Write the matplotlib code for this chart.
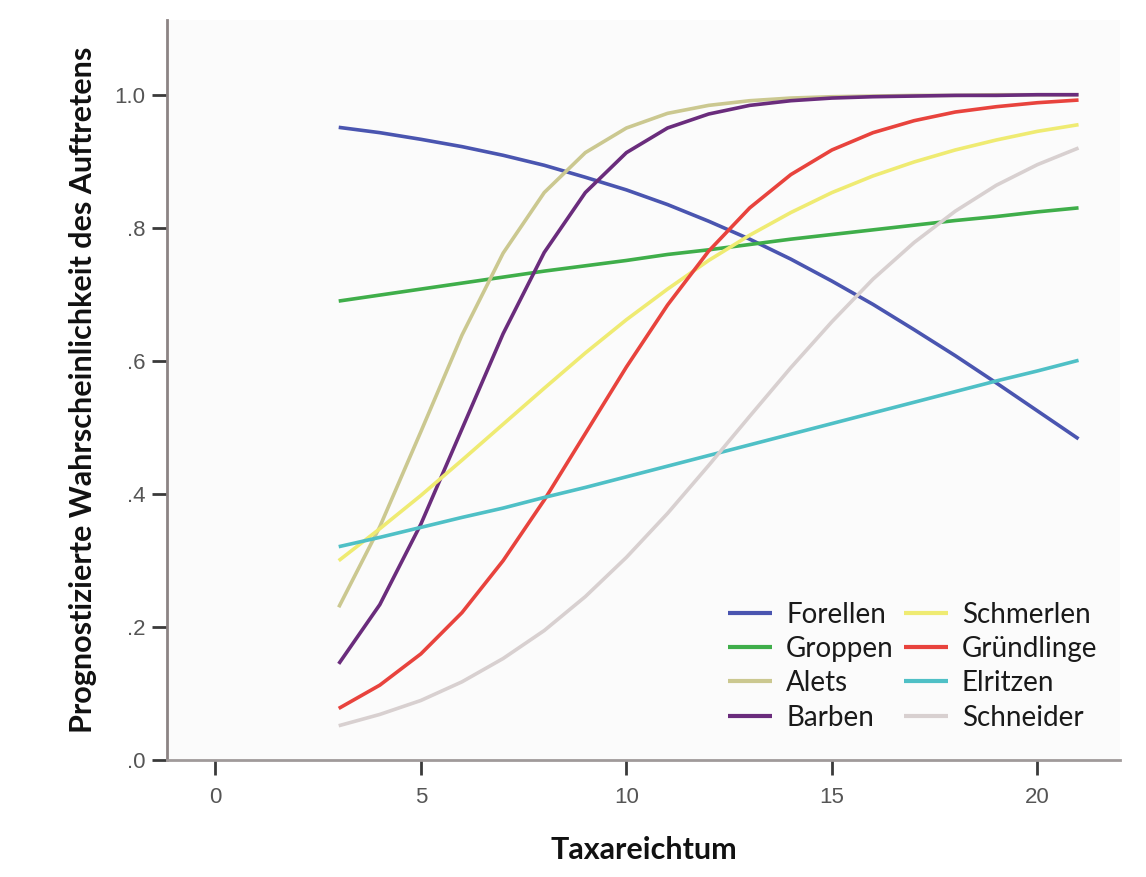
import matplotlib
matplotlib.use("Agg")
import matplotlib.pyplot as plt

# Taxareichtum (x) und prognostizierte Wahrscheinlichkeiten je Fischart
taxa = [3, 4, 5, 6, 7, 8, 9, 10, 11, 12, 13, 14, 15, 16, 17, 18, 19, 20, 21]

forellen = [0.951, 0.943, 0.933, 0.922, 0.909, 0.894, 0.876, 0.857, 0.835, 0.810,
            0.783, 0.753, 0.720, 0.685, 0.647, 0.608, 0.567, 0.525, 0.483]
groppen = [0.690, 0.699, 0.708, 0.717, 0.726, 0.735, 0.743, 0.751, 0.760, 0.767,
           0.775, 0.783, 0.790, 0.797, 0.804, 0.811, 0.817, 0.824, 0.830]
alets = [0.230, 0.351, 0.494, 0.639, 0.762, 0.853, 0.913, 0.950, 0.972, 0.984,
         0.991, 0.995, 0.997, 0.998, 0.999, 0.999, 1.000, 1.000, 1.000]
barben = [0.145, 0.234, 0.355, 0.498, 0.641, 0.763, 0.853, 0.913, 0.950, 0.971,
          0.984, 0.991, 0.995, 0.997, 0.998, 0.999, 0.999, 1.000, 1.000]
schmerlen = [0.300, 0.348, 0.398, 0.451, 0.505, 0.559, 0.612, 0.662, 0.708, 0.751,
             0.789, 0.823, 0.853, 0.878, 0.899, 0.917, 0.932, 0.945, 0.955]
gruendlinge = [0.078, 0.113, 0.160, 0.222, 0.300, 0.391, 0.491, 0.591, 0.684, 0.765,
               0.830, 0.880, 0.917, 0.943, 0.961, 0.974, 0.982, 0.988, 0.992]
elritzen = [0.321, 0.335, 0.350, 0.365, 0.379, 0.395, 0.410, 0.426, 0.442, 0.458,
            0.474, 0.490, 0.506, 0.522, 0.538, 0.554, 0.570, 0.585, 0.601]
schneider = [0.052, 0.069, 0.090, 0.118, 0.153, 0.195, 0.246, 0.305, 0.371, 0.443,
             0.517, 0.590, 0.659, 0.723, 0.778, 0.825, 0.864, 0.895, 0.920]

names = ["Forellen", "Groppen", "Alets", "Barben",
         "Schmerlen", "Gründlinge", "Elritzen", "Schneider"]
series = [forellen, groppen, alets, barben, schmerlen, gruendlinge, elritzen, schneider]
colors = ["#4a55b0", "#3fae4a", "#cbc890", "#6a2c7c",
          "#efeb72", "#e8433d", "#4fc0c6", "#d8d0d0"]

x_ticks = [0, 5, 10, 15, 20]
y_ticks = [0.0, 0.2, 0.4, 0.6, 0.8, 1.0]
y_tick_labels = [".0", ".2", ".4", ".6", ".8", "1.0"]

fig = plt.figure(figsize=(11.46, 8.77), dpi=100)
fig.patch.set_facecolor("white")
ax = fig.add_axes([0.146, 0.133, 0.831, 0.844])
ax.set_facecolor("#fbfbfb")

for name, vals, col in zip(names, series, colors):
    ax.plot(taxa, vals, color=col, linewidth=2.6, label=name, solid_capstyle="butt")

ax.set_xlim(-1.17, 22.0)
ax.set_ylim(0, 1.112)

ax.set_xticks(x_ticks)
ax.set_yticks(y_ticks)
ax.set_yticklabels(y_tick_labels)

for side in ["top", "right"]:
    ax.spines[side].set_visible(False)
ax.spines["left"].set_color("#8c8484")
ax.spines["bottom"].set_color("#a09a9a")
for side in ["left", "bottom"]:
    ax.spines[side].set_linewidth(2.0)

ax.tick_params(axis="both", colors="#3a3a3a", labelcolor="#555555",
               length=11, width=2.0, labelsize=16, direction="out", pad=5)
ax.tick_params(axis="x", pad=8)
for lbl in ax.get_xticklabels() + ax.get_yticklabels():
    lbl.set_family("Liberation Sans")

ax.set_xlabel("Taxareichtum", fontsize=22, fontweight="bold", family="Lato",
              labelpad=20, color="#111111")
ax.set_ylabel("Prognostizierte Wahrscheinlichkeit des Auftretens", fontsize=22,
              fontweight="bold", family="Lato", labelpad=12, color="#111111")

leg = ax.legend(loc="lower right", ncol=2, frameon=False,
                handlelength=1.6, handletextpad=0.5, columnspacing=0.35,
                labelspacing=0.3, borderpad=0.2, bbox_to_anchor=(0.997, 0.014),
                prop={"family": "Lato", "size": 20})
for line in leg.get_lines():
    line.set_linewidth(3.0)
for txt in leg.get_texts():
    txt.set_color("#1a1a1a")

plt.savefig("out.png", dpi=100)
